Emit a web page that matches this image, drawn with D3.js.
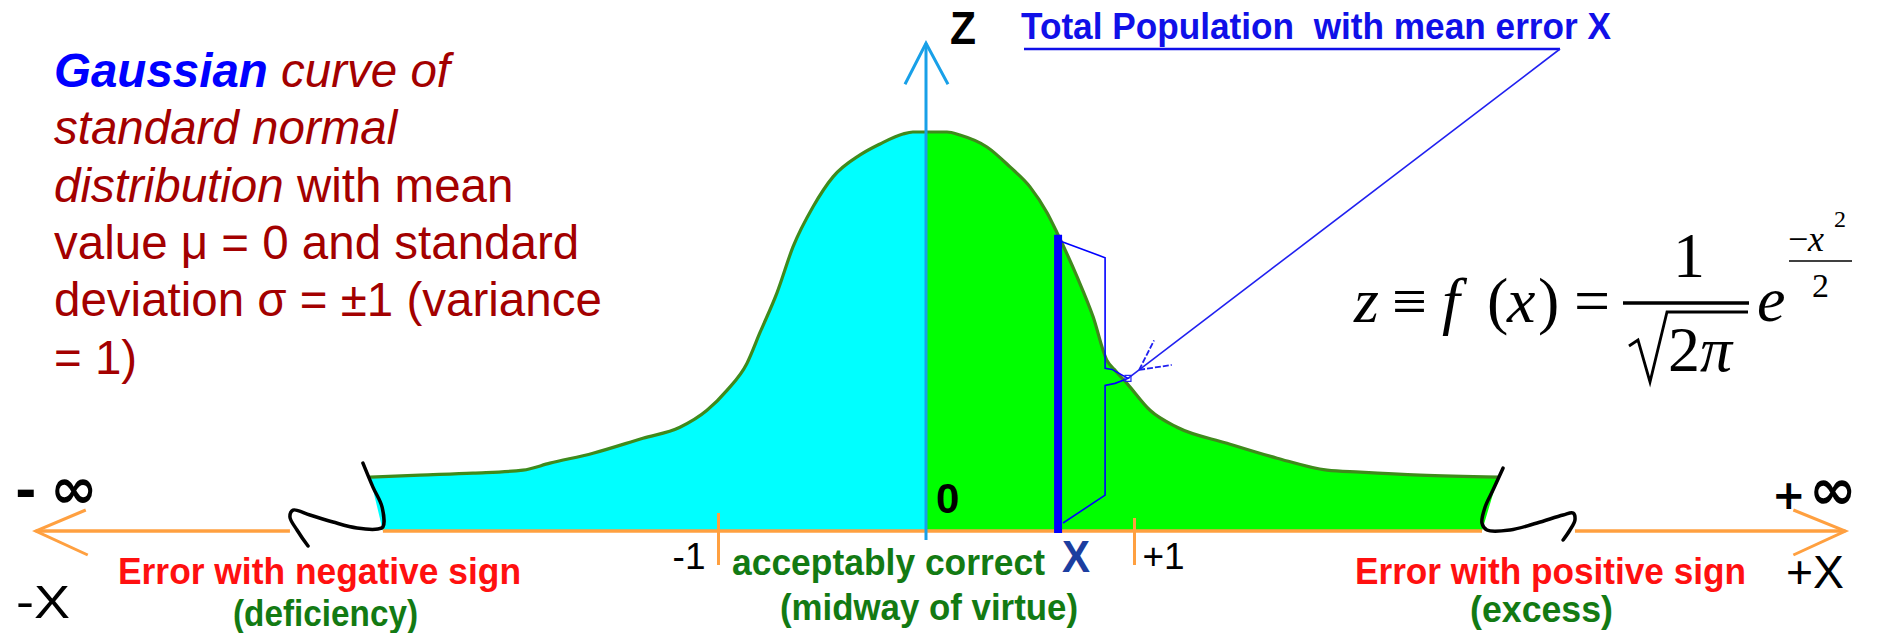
<!DOCTYPE html>
<html><head><meta charset="utf-8">
<script src="https://cdn.jsdelivr.net/npm/d3@7"></script>
<style>body{margin:0;background:#fff}svg{display:block}</style>
</head><body>
<svg id="c" width="1890" height="633"></svg>
<script>
// ---------- data (x in units of sigma, z = density height) ----------
const curveX = [-2.673,-2.433,-2.178,-1.938,-1.808,-1.601,-1.361,-1.183,-1.053,-0.957,-0.861,-0.798,-0.716,-0.639,-0.543,-0.447,-0.317,-0.221,-0.111,-0.063,0,0.101,0.163,0.293,0.404,0.500,0.582,0.630,0.726,0.803,0.870,0.905,0.966,1.077,1.207,1.447,1.688,1.928,2.087,2.375,2.750];
const curveZ = [0.054,0.056,0.058,0.061,0.068,0.078,0.093,0.104,0.121,0.141,0.168,0.199,0.239,0.285,0.325,0.355,0.377,0.388,0.398,0.400,0.400,0.400,0.397,0.385,0.365,0.345,0.319,0.299,0.255,0.215,0.171,0.162,0.148,0.121,0.104,0.088,0.073,0.061,0.059,0.056,0.054];
const meanErrorX = 0.635;
const meanErrorZ = 0.297;
const tickValues = [-1, 1];
const tickLabels = ["-1", "+1"];
const leftBreakX = [-2.707,-2.659,-2.615,-2.611,-2.635,-2.736,-2.851,-2.962,-3.043,-3.058,-3.024,-2.971];
const leftBreakZ = [0.068,0.044,0.024,0.004,0.002,0.003,0.009,0.016,0.021,0.014,0.001,-0.015];
const rightBreakX = [2.774,2.726,2.688,2.673,2.697,2.808,2.938,3.063,3.111,3.120,3.096,3.063];
const rightBreakZ = [0.063,0.041,0.024,0.008,0.001,0.001,0.008,0.016,0.018,0.011,0.001,-0.009];
const bracketX = [0.654,0.861,0.861,0.894,0.971,0.909,0.861,0.861,0.659];
const bracketZ = [0.290,0.274,0.163,0.162,0.153,0.148,0.146,0.036,0.008];
const axisExtent = [-4.28, 4.42];
const zAxisExtent = [-0.009, 0.489];
const descLines = [
  [["Gaussian","g"],[" curve of","i"]],
  [["standard normal","i"]],
  [["distribution","i"],[" with mean","n"]],
  [["value μ = 0 and standard","n"]],
  [["deviation σ = ±1 (variance","n"]],
  [["= 1)","n"]]
];
const annotationText = "Total Population  with mean error X";

// ---------- drawing ----------
const svg = d3.select("#c");
svg.append("rect").attr("width",1890).attr("height",633).attr("fill","#fff");
const x = d3.scaleLinear().domain([-1,1]).range([718,1134]);
const y = d3.scaleLinear().domain([0,0.4]).range([531,132]);
const SANS = "'Liberation Sans', Arial, sans-serif";
const SERIF = "'Liberation Serif', 'Times New Roman', serif";
const DJV = "'DejaVu Sans', sans-serif";

const pts = curveX.map((v,i)=>({x:v,z:curveZ[i]}));
const leftPts = pts.filter(d=>d.x<=0), rightPts = pts.filter(d=>d.x>=0);
const lineGen = d3.line().x(d=>x(d.x)).y(d=>y(d.z)).curve(d3.curveMonotoneX);
const leftBase = leftBreakX[3], rightBase = rightBreakX[3];

svg.append("path")
  .attr("d", lineGen(leftPts)+`L${x(0)},${y(0)}L${x(leftBase)},${y(0)}Z`)
  .attr("fill","#00ffff");
svg.append("path")
  .attr("d", lineGen(rightPts)+`L${x(rightBase)},${y(0)}L${x(0)},${y(0)}Z`)
  .attr("fill","#00ff00");
svg.append("path").attr("d", lineGen(pts)).attr("fill","none")
  .attr("stroke","#3f8a1c").attr("stroke-width",3.2).attr("stroke-linejoin","round");

// orange main axis, broken at the squiggles
const ORANGE = "#ffa040";
const gapL = [d3.min(leftBreakX), d3.max(leftBreakX.slice(0,4))];
const gapR = [d3.min(rightBreakX.slice(0,4)), d3.max(rightBreakX)];
const segs = [[axisExtent[0], gapL[0]], [leftBase, rightBase], [gapR[1], axisExtent[1]]];
svg.selectAll("line.ax").data(segs).join("line").attr("class","ax")
  .attr("x1",d=>x(d[0])).attr("x2",d=>x(d[1])).attr("y1",y(0)).attr("y2",y(0))
  .attr("stroke",ORANGE).attr("stroke-width",3.5);
const xl = x(axisExtent[0]), xr = x(axisExtent[1]), y0 = y(0);
svg.append("path").attr("d",`M${xl+50},${y0-21}L${xl},${y0}L${xl+52},${y0+24}`)
  .attr("fill","none").attr("stroke",ORANGE).attr("stroke-width",3);
svg.append("path").attr("d",`M${xr-52},${y0-21}L${xr},${y0}L${xr-52},${y0+24}`)
  .attr("fill","none").attr("stroke",ORANGE).attr("stroke-width",3);

// ticks -1, +1 via d3 axis
const tickAxis = d3.axisBottom(x).tickValues(tickValues).tickSize(34).tickFormat((d,i)=>tickLabels[i]);
const gT = svg.append("g").attr("transform",`translate(0,${y0})`).call(tickAxis);
gT.select(".domain").remove();
gT.selectAll(".tick line").attr("y1",(d)=>d<0?-18:-13).attr("stroke",ORANGE).attr("stroke-width",3);
gT.selectAll(".tick text")
  .attr("font-family",SANS).attr("font-size",37).attr("fill","#000")
  .attr("y",38).attr("dy",0)
  .attr("x",d=>d<0?-13:8)
  .attr("text-anchor",d=>d<0?"end":"start");

// break squiggles
const brk = (xs,zs)=>d3.line().x(d=>x(d[0])).y(d=>y(d[1])).curve(d3.curveCatmullRom)(xs.map((v,i)=>[v,zs[i]]));
[[leftBreakX,leftBreakZ],[rightBreakX,rightBreakZ]].forEach(([a,b])=>{
  svg.append("path").attr("d",brk(a,b)).attr("fill","none").attr("stroke","#000")
    .attr("stroke-width",3.5).attr("stroke-linecap","round").attr("stroke-linejoin","round");
});

// Z axis
const ZBLUE = "#18a0e8";
const zx = x(0), zTop = y(zAxisExtent[1]);
svg.append("line").attr("x1",zx).attr("x2",zx).attr("y1",y(zAxisExtent[0])).attr("y2",zTop)
  .attr("stroke",ZBLUE).attr("stroke-width",3);
svg.append("path").attr("d",`M${zx-21},${zTop+41}L${zx},${zTop}L${zx+22},${zTop+41}`)
  .attr("fill","none").attr("stroke",ZBLUE).attr("stroke-width",3);

// mean error bar
svg.append("line").attr("x1",x(meanErrorX)).attr("x2",x(meanErrorX))
  .attr("y1",y(0)+2).attr("y2",y(meanErrorZ)).attr("stroke","#0000ff").attr("stroke-width",8);

// bracket
const brPts = bracketX.map((v,i)=>[x(v),y(bracketZ[i])]);
svg.append("path").attr("d",d3.line()(brPts)).attr("fill","none")
  .attr("stroke","#0000ff").attr("stroke-width",1.6);

// annotation leader
const tip = brPts[4];
const ulStart = [1024,49], ulEnd = [1560,49];
svg.append("line").attr("x1",ulStart[0]).attr("x2",ulEnd[0]).attr("y1",ulStart[1]).attr("y2",ulEnd[1])
  .attr("stroke","#1010e8").attr("stroke-width",2.5);
svg.append("line").attr("x1",ulEnd[0]).attr("y1",ulEnd[1]).attr("x2",tip[0]).attr("y2",tip[1])
  .attr("stroke","#2020f0").attr("stroke-width",1.6);
{
  const dx = ulEnd[0]-tip[0], dy = ulEnd[1]-tip[1], L = Math.hypot(dx,dy);
  const ux = dx/L, uy = dy/L;
  const ax0 = tip[0]+ux*14, ay0 = tip[1]+uy*14;
  [-0.45, 0.5].forEach(a=>{
    const c=Math.cos(a), s=Math.sin(a);
    const vx = ux*c - uy*s, vy = ux*s + uy*c;
    svg.append("line").attr("x1",ax0).attr("y1",ay0).attr("x2",ax0+vx*33).attr("y2",ay0+vy*33)
      .attr("stroke","#2020f0").attr("stroke-width",1.8).attr("stroke-dasharray","6 2");
  });
  svg.append("rect").attr("x",tip[0]-3).attr("y",tip[1]-3).attr("width",6).attr("height",6)
    .attr("fill","none").attr("stroke","#2020f0").attr("stroke-width",1.2);
}
svg.append("text").attr("x",1021).attr("y",39).attr("font-family",SANS).attr("font-weight","bold")
  .attr("font-size",36).attr("fill","#1010e8").attr("textLength",590).attr("lengthAdjust","spacingAndGlyphs")
  .attr("xml:space","preserve").style("white-space","pre").text(annotationText);

// axis labels
const lbl = (t,px,py,opt={})=>svg.append("text").attr("x",px).attr("y",py)
  .attr("font-family",opt.ff||SANS).attr("font-size",opt.fs||40).attr("font-weight",opt.fw||"normal")
  .attr("fill",opt.fill||"#000").attr("text-anchor",opt.anchor||"start")
  .call(s=>{ if(opt.tl) s.attr("textLength",opt.tl).attr("lengthAdjust","spacingAndGlyphs"); })
  .text(t);
lbl("Z", zx+24, 44, {fs:46, fw:"bold", tl:26});
lbl("0", zx+10, 513, {fs:42, fw:"bold"});
lbl("X", x(meanErrorX)+4, 572, {fs:44, fw:"bold", fill:"#1c3ea0", tl:28});

// infinity labels (sign + symbol in one text)
const inf = (sign, px, pxInf, py, signFs)=>{
  const t = svg.append("text").attr("y",py).attr("font-family",DJV)
    .attr("font-weight","bold").attr("fill","#000");
  t.append("tspan").attr("x",px).attr("font-size",signFs).text(sign);
  t.append("tspan").attr("x",pxInf).attr("font-size",57).text("∞");
};
inf("-", 15, 50, 508, 52);
inf("+", 1772, 1809, 509, 40);
lbl("-X", 16, 618, {fs:46, tl:54});
lbl("+X", 1786, 588, {fs:46, tl:58});

// region labels
const RED = "#ff1010", GREEN = "#137a13";
lbl("Error with negative sign", 118, 584, {fs:37, fw:"bold", fill:RED, tl:403});
lbl("(deficiency)", 233, 626, {fs:37, fw:"bold", fill:GREEN, tl:185});
lbl("acceptably correct", 732, 575, {fs:37, fw:"bold", fill:GREEN, tl:313});
lbl("(midway of virtue)", 780, 620, {fs:37, fw:"bold", fill:GREEN, tl:298});
lbl("Error with positive sign", 1355, 584, {fs:37, fw:"bold", fill:RED, tl:391});
lbl("(excess)", 1470, 622, {fs:37, fw:"bold", fill:GREEN, tl:143});

// description text block
const DRED = "#a30000";
const desc = svg.append("text").attr("font-family",SANS).attr("font-size",47.5).attr("fill",DRED);
descLines.forEach((line,i)=>{
  line.forEach(([t,s],j)=>{
    const ts = desc.append("tspan").text(t).attr("xml:space","preserve").style("white-space","pre");
    if(j===0) ts.attr("x",54).attr("y",87+i*57.3);
    if(s==="g") ts.attr("fill","#0000ff").attr("font-weight","bold").attr("font-style","italic");
    if(s==="i") ts.attr("font-style","italic");
  });
});

// formula
const f = svg.append("g").attr("transform","translate(1352,322)")
  .attr("font-family",SERIF).attr("fill","#000");
const ft = (t,px,py,fs,it)=>f.append("text").attr("x",px).attr("y",py).attr("font-size",fs)
  .attr("font-style",it?"italic":"normal").text(t);
ft("z",2,0,64,true);
ft("≡",40,0,62,false);
ft("f",90,0,64,true);
ft("(",135,0,64,false);
ft("x",155,0,64,true);
ft(")",186,0,64,false);
ft("=",222,0,64,false);
f.append("line").attr("x1",271).attr("x2",397).attr("y1",-19).attr("y2",-19).attr("stroke","#000").attr("stroke-width",3.5);
ft("1",321,-45,64,false);
f.append("path").attr("d","M277,24L286,18L298,60L315,-10L396,-10").attr("fill","none").attr("stroke","#000").attr("stroke-width",2.8);
ft("2",316,49,64,false);
ft("π",348,49,64,true);
ft("e",405,-1,64,true);
ft("−",436,-71,36,false);
ft("x",456,-71,36,true);
ft("2",482,-95,24,false);
f.append("line").attr("x1",437).attr("x2",500).attr("y1",-61).attr("y2",-61).attr("stroke","#000").attr("stroke-width",1.6);
ft("2",460,-25,34,false);
</script>
</body></html>
